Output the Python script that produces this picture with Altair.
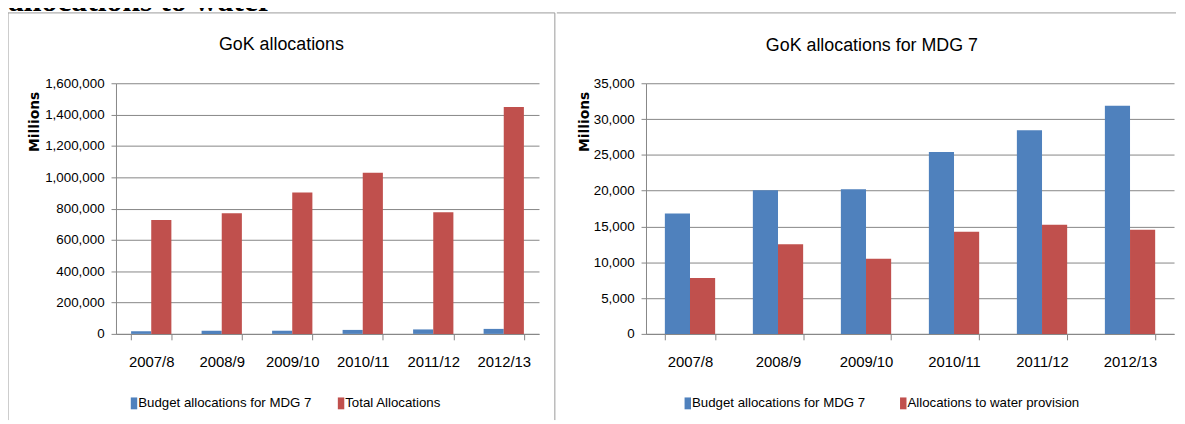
import altair as alt
import pandas as pd

years = ["2007/8", "2008/9", "2009/10", "2010/11", "2011/12", "2012/13"]
mdg7_budget = [16800, 20050, 20200, 25400, 28450, 31850]
total_alloc = [727000, 770000, 902000, 1029000, 776000, 1448000]
water_alloc = [7800, 12500, 10500, 14250, 15250, 14550]

s_mdg = "Budget allocations for MDG 7"
s_total = "Total Allocations"
s_water = "Allocations to water provision"

header = "allocations to water"
title_left = "GoK allocations"
title_right = "GoK allocations for MDG 7"

BLUE = "#4F81BD"
RED = "#C0504D"
GRID = "#868686"
BORDER = "#9a9a9a"
SANS = "Liberation Sans"

left_df = pd.DataFrame({
    "year": years * 2,
    "series": [s_mdg] * 6 + [s_total] * 6,
    "value": mdg7_budget + total_alloc,
})
right_df = pd.DataFrame({
    "year": years * 2,
    "series": [s_mdg] * 6 + [s_water] * 6,
    "value": mdg7_budget + water_alloc,
})

H = 253
RECT_PATH = "M-0.22,-1.71H1.64V1.71H-0.22Z"


def rule(x, x2, y, y2):
    return alt.Chart(pd.DataFrame({"k": [0]})).mark_rule(
        color=BORDER, strokeWidth=1
    ).encode(x=alt.value(x), x2=alt.value(x2), y=alt.value(y), y2=alt.value(y2))


def label(text, x, y, font, size, weight="normal", align="center"):
    return alt.Chart(pd.DataFrame({"t": [text]})).mark_text(
        font=font, fontSize=size, fontWeight=weight, align=align,
        baseline="alphabetic", color="black"
    ).encode(text="t:N", x=alt.value(x), y=alt.value(y))


def bars(df, order, ymax, ystep, width, legend_x, col_pad, ytitle_x):
    return alt.Chart(df).mark_bar().encode(
        x=alt.X(
            "year:N", sort=years,
            scale=alt.Scale(paddingInner=0.4286, paddingOuter=0.2143),
            axis=alt.Axis(
                title=None, labelAngle=0, labelFont=SANS, labelFontSize=15,
                labelColor="black", tickBand="extent", tickSize=6,
                tickColor=GRID, domainColor=GRID, labelPadding=15, grid=False,
            ),
        ),
        xOffset=alt.XOffset(
            "series:N", sort=order,
            scale=alt.Scale(domain=order, paddingInner=0, paddingOuter=0),
        ),
        y=alt.Y(
            "value:Q",
            scale=alt.Scale(domain=[0, ymax], nice=False),
            axis=alt.Axis(
                title="Millions", titleFont="DejaVu Sans", titleFontSize=14,
                titleFontWeight="bold", titleColor="black", titleAngle=-90,
                titleX=ytitle_x, titleY=38.5, titleAlign="center",
                titleBaseline="middle",
                values=list(range(0, ymax + 1, ystep)), format=",.0f",
                labelFont=SANS, labelFontSize=13.5, labelColor="black",
                labelPadding=7, tickSize=5, tickColor=GRID, domainColor=GRID,
                grid=True, gridColor=GRID,
            ),
        ),
        color=alt.Color(
            "series:N", sort=order,
            scale=alt.Scale(domain=order, range=[BLUE, RED]),
            legend=alt.Legend(
                title=None, orient="none", direction="horizontal",
                legendX=legend_x, legendY=316, symbolType=RECT_PATH,
                symbolSize=49, symbolStrokeWidth=0, labelFont=SANS,
                labelFontSize=13.4, labelColor="black", columnPadding=col_pad,
                labelOffset=0, labelLimit=400,
            ),
        ),
    ).properties(width=width, height=H)


left = alt.layer(
    bars(left_df, [s_mdg, s_total], 1600000, 200000, 427, 9, 20, -82),
    label(title_left, 167, -33.5, SANS, 18),
    label(header, -109, -73, "Liberation Serif", 32, "bold", "left"),
    rule(-109, 443, -71, -71),
    rule(-109, -109, -71, 340),
    rule(443, 443, -71, 340),
).properties(width=427, height=H)

right = alt.layer(
    bars(right_df, [s_mdg, s_water], 35000, 5000, 533, 33, 28.5, -62),
    label(title_right, 228, -33, SANS, 18),
    rule(-90, 535, -71, -71),
).properties(width=533, height=H)

chart = alt.hconcat(left, right, spacing=0).resolve_scale(
    color="independent", x="independent", y="independent", xOffset="independent"
).properties(
    padding={"left": -1, "top": -25, "right": 0, "bottom": 0},
    background="white",
).configure_view(strokeWidth=0)

chart.save("out.html", embed_options={"renderer": "svg", "actions": False})
